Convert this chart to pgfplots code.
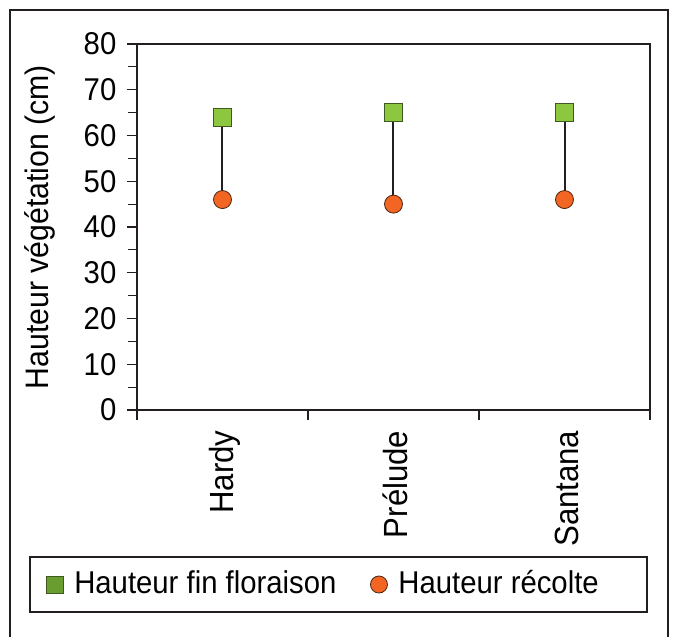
\documentclass[border=0pt]{standalone}
\usepackage{fontspec}
\setmainfont{Liberation Sans}[FakeStretch=0.93]
\usepackage{pgfplots}
\pgfplotsset{compat=1.18}
\definecolor{sqgreen}{HTML}{8DC63F}
\definecolor{sqedge}{HTML}{3F5A1E}
\definecolor{leggreen}{HTML}{6A9D30}
\definecolor{circorange}{HTML}{F26522}
\definecolor{circedge}{HTML}{4A2410}
\definecolor{axgray}{HTML}{231F20}
\begin{document}
\fontsize{31.5}{36}\selectfont
\begin{tikzpicture}
\useasboundingbox (-137pt,-227pt) rectangle (538pt,410pt);
\begin{axis}[
  scale only axis, width=513pt, height=366pt,
  xmin=-0.5, xmax=2.5, ymin=0, ymax=80,
  clip=false,
  axis line style={axgray, line width=1.3pt},
  every tick/.style={axgray, line width=1.2pt},
  tick pos=left, tick align=outside,
  major tick length=10pt, minor tick length=9pt,
  xtick={-0.5,0.5,1.5,2.5}, xticklabels={},
  extra x ticks={0,1,2},
  extra x tick labels={Hardy,Prélude,Santana},
  extra x tick style={major tick length=0pt, tick label style={rotate=90, anchor=east, xshift=-10pt, yshift=-2pt, font=\fontsize{33.5}{38}\selectfont}},
  ytick={0,10,...,80}, minor ytick={5,15,...,75},
  /pgf/number format/assume math mode=true,
  tick label style={font=\fontsize{31.5}{36}\selectfont},
  ylabel={Hauteur végétation (cm)},
  every axis y label/.style={at={(axis description cs:-0.189,0.5)}, rotate=90, anchor=center, font=\fontsize{32.5}{36}\selectfont},
  legend columns=2,
  legend style={draw=none, fill=none, at={(axis description cs:0.3636,-0.4768)}, anchor=center,
    font=\fontsize{31.5}{36}\selectfont,
    /tikz/every odd column/.append style={column sep=9pt},
    /tikz/every even column/.append style={column sep=32pt}},
]
\addlegendimage{only marks, mark=square*, mark size=8.5pt, mark options={fill=leggreen, draw=sqedge, line width=0.8pt}}
\addlegendentry{Hauteur fin floraison}
\addlegendimage{only marks, mark=*, mark size=8.5pt, mark options={fill=circorange, draw=circedge, line width=0.8pt}}
\addlegendentry{Hauteur récolte}
\addplot[axgray, line width=2pt, forget plot] coordinates {(0,64) (0,46)};
\addplot[axgray, line width=2pt, forget plot] coordinates {(1,65) (1,45)};
\addplot[axgray, line width=2pt, forget plot] coordinates {(2,65) (2,46)};
\addplot[only marks, mark=*, mark size=9pt, mark options={fill=circorange, draw=circedge, line width=0.8pt}, forget plot]
  coordinates {(0,46) (1,45) (2,46)};
\addplot[only marks, mark=square*, mark size=9pt, mark options={fill=sqgreen, draw=sqedge, line width=0.8pt}, forget plot]
  coordinates {(0,64) (1,65) (2,65)};
\end{axis}
\draw[axgray, line width=1.2pt] (-107pt,-147pt) rectangle (510pt,-202pt);
\draw[axgray, line width=1.6pt] (-127pt,-227pt) -- (-127pt,400pt) -- (531pt,400pt) -- (531pt,-227pt);
\end{tikzpicture}
\end{document}
